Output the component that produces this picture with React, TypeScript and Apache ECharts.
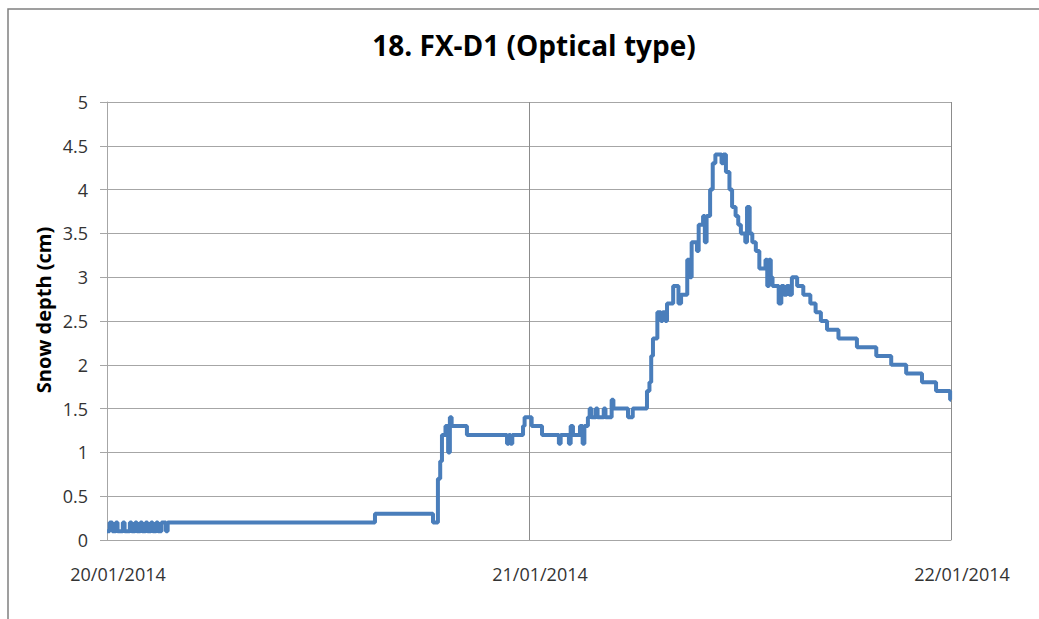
import React, { useEffect, useRef } from "react";
import * as echarts from "echarts";

const chartTitle = "18. FX-D1 (Optical type)";
const yAxisTitle = "Snow depth (cm)";
const dateLabels = ["20/01/2014", "21/01/2014", "22/01/2014"];
const yTicks = { min: 0, max: 5, step: 0.5 };

// [hours since 20/01/2014 00:00, snow depth cm]
const readings: [number, number][] = [
  [0, 0.1], [0.15, 0.2], [0.3, 0.1], [0.5, 0.2], [0.6, 0.1], [0.9, 0.2], [1.0, 0.1],
  [1.3, 0.2], [1.4, 0.1], [1.6, 0.2], [1.7, 0.1], [1.9, 0.2], [2.0, 0.1], [2.2, 0.2],
  [2.3, 0.1], [2.5, 0.2], [2.6, 0.1], [2.8, 0.2], [2.9, 0.1], [3.1, 0.2], [3.35, 0.1],
  [3.45, 0.2], [15.24, 0.3], [18.54, 0.2], [18.82, 0.7], [18.95, 0.9], [19.05, 1.2],
  [19.25, 1.3], [19.4, 1.0], [19.5, 1.4], [19.6, 1.3], [20.47, 1.2], [22.75, 1.1],
  [22.85, 1.2], [22.95, 1.1], [23.05, 1.2], [23.66, 1.3], [23.75, 1.4], [24.15, 1.3],
  [24.74, 1.2], [25.7, 1.1], [25.8, 1.2], [26.27, 1.1], [26.37, 1.3], [26.5, 1.2],
  [26.9, 1.3], [27.05, 1.1], [27.15, 1.3], [27.35, 1.4], [27.45, 1.5], [27.55, 1.4],
  [27.8, 1.5], [27.9, 1.4], [28.25, 1.5], [28.35, 1.4], [28.7, 1.6], [28.8, 1.5],
  [29.63, 1.4], [29.9, 1.5], [30.71, 1.7], [30.85, 1.8], [30.95, 2.1], [31.05, 2.3],
  [31.3, 2.6], [31.5, 2.5], [31.6, 2.6], [31.75, 2.5], [31.85, 2.7], [32.2, 2.9],
  [32.5, 2.7], [32.65, 2.8], [33.0, 3.2], [33.15, 3.0], [33.25, 3.4], [33.55, 3.3],
  [33.65, 3.6], [33.9, 3.7], [34.0, 3.4], [34.1, 3.7], [34.3, 4.0], [34.45, 4.3],
  [34.6, 4.4], [34.95, 4.3], [35.05, 4.4], [35.2, 4.2], [35.4, 4.0], [35.55, 3.8],
  [35.75, 3.7], [35.9, 3.6], [36.05, 3.5], [36.3, 3.4], [36.4, 3.8], [36.55, 3.5],
  [36.7, 3.4], [36.9, 3.3], [37.1, 3.1], [37.45, 3.2], [37.55, 2.9], [37.65, 3.2],
  [37.75, 3.0], [37.85, 2.9], [38.2, 2.7], [38.35, 2.9], [38.5, 2.8], [38.65, 2.9],
  [38.8, 2.8], [38.95, 3.0], [39.25, 2.9], [39.6, 2.8], [40.0, 2.7], [40.3, 2.6],
  [40.6, 2.5], [40.95, 2.4], [41.6, 2.3], [42.65, 2.2], [43.75, 2.1], [44.6, 2.0],
  [45.45, 1.9], [46.35, 1.8], [47.15, 1.7], [47.95, 1.6], [48.0, 1.6],
];

const FONT = "'Open Sans', 'Noto Sans', sans-serif";

export default function App() {
  const ref = useRef<HTMLDivElement>(null);
  useEffect(() => {
    if (!ref.current) return;
    const chart = echarts.init(ref.current, null, { renderer: "svg" });
    chart.setOption({
      animation: false,
      backgroundColor: "#ffffff",
      title: {
        text: chartTitle,
        left: 529,
        textAlign: "center",
        top: 26,
        textStyle: { fontFamily: FONT, fontSize: 28, fontWeight: "bold", color: "#000000" },
      },
      graphic: [
        {
          type: "rect",
          shape: { x: 8, y: 9, width: 1100, height: 700 },
          style: { fill: "none", stroke: "#808080", lineWidth: 1.5 },
          silent: true,
        },
        {
          type: "text",
          x: 43,
          y: 310,
          rotation: Math.PI / 2,
          silent: true,
          style: {
            text: yAxisTitle,
            fontFamily: FONT,
            fontSize: 20,
            fontWeight: "bold",
            fill: "#000000",
            align: "center",
            verticalAlign: "middle",
          },
        },
      ],
      grid: { left: 107, right: 88, top: 102, bottom: 79, containLabel: false },
      xAxis: {
        type: "value",
        min: 0,
        max: 48,
        interval: 24,
        axisLine: { show: true, lineStyle: { color: "#a6a6a6", width: 1 } },
        axisTick: { show: false },
        splitLine: { show: true, lineStyle: { color: "#8c8c8c", width: 1 } },
        axisLabel: {
          formatter: (v: number) => dateLabels[Math.round(v / 24)] ?? "",
          fontFamily: FONT,
          fontSize: 18,
          color: "#333333",
          margin: 25,
          padding: [0, 0, 0, 22],
          showMinLabel: true,
          showMaxLabel: true,
        },
      },
      yAxis: {
        type: "value",
        min: yTicks.min,
        max: yTicks.max,
        interval: yTicks.step,
        axisLine: { show: true, lineStyle: { color: "#a6a6a6", width: 1 } },
        axisTick: { show: true, inside: false, length: 7, lineStyle: { color: "#a6a6a6" } },
        splitLine: { show: true, lineStyle: { color: "#a6a6a6", width: 1 } },
        axisLabel: {
          fontFamily: FONT,
          fontSize: 18,
          color: "#333333",
          margin: 19,
          formatter: (v: number) => String(v),
        },
      },
      series: [
        {
          type: "line",
          step: "end",
          data: readings,
          showSymbol: false,
          symbol: "none",
          lineStyle: { color: "#4a7ebb", width: 4 },
          itemStyle: { color: "#4a7ebb" },
        },
      ],
    });
    return () => chart.dispose();
  }, []);
  return (
    <div
      ref={ref}
      style={{ position: "fixed", left: 0, top: 0, width: 1039, height: 619 }}
    />
  );
}
